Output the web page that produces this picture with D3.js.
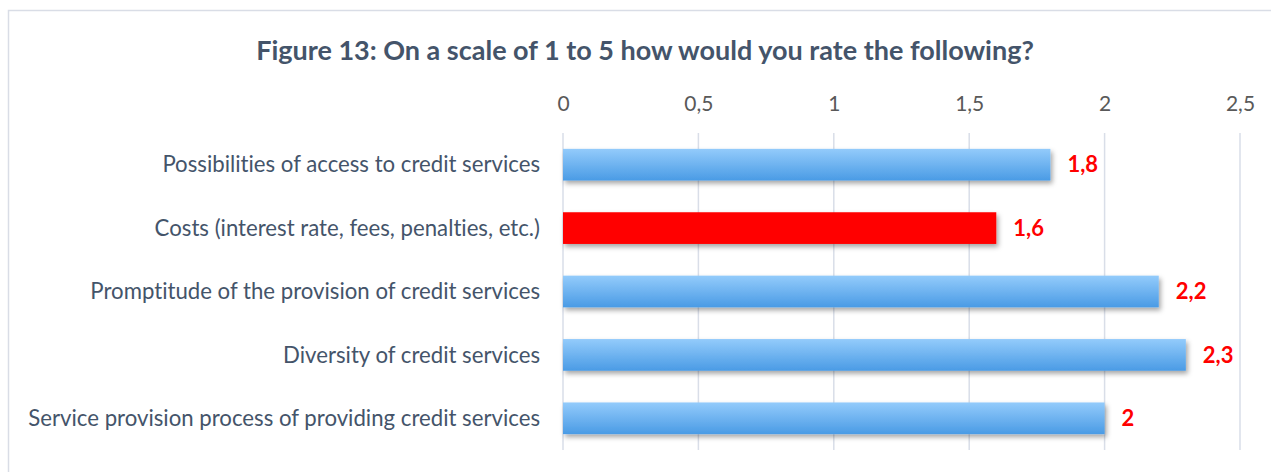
<!DOCTYPE html>
<html>
<head>
<meta charset="utf-8">
<script src="https://cdn.jsdelivr.net/npm/d3@7"></script>
<style>
  body { margin: 0; background: #fff; }
  svg { display: block; font-family: Lato, "Open Sans", sans-serif; font-variant-ligatures: none; }
</style>
</head>
<body>
<div id="chart"></div>
<script>
// data
const categories = [
  'Possibilities of access to credit services',
  'Costs (interest rate, fees, penalties, etc.)',
  'Promptitude of the provision of credit services',
  'Diversity of credit services',
  'Service provision process of providing credit services'
];
const values = [1.8, 1.6, 2.2, 2.3, 2];
const highlighted = [false, true, false, false, false];
const ticks = [0, 0.5, 1, 1.5, 2, 2.5];
const title = 'Figure 13: On a scale of 1 to 5 how would you rate the following?';

const W = 1271, H = 472;
const margin = { top: 133, right: 31, bottom: 22, left: 563 };

const svg = d3.select('#chart').append('svg')
  .attr('width', W)
  .attr('height', H);

const defs = svg.append('defs');
const grad = defs.append('linearGradient')
  .attr('id', 'barGrad')
  .attr('x1', 0).attr('y1', 0).attr('x2', 0).attr('y2', 1);
grad.append('stop').attr('offset', '0%').attr('stop-color', '#93cbfb');
grad.append('stop').attr('offset', '100%').attr('stop-color', '#4a9be5');

const shadow = defs.append('filter')
  .attr('id', 'shadow')
  .attr('x', '-5%').attr('y', '-30%')
  .attr('width', '110%').attr('height', '170%');
shadow.append('feDropShadow')
  .attr('dx', 2).attr('dy', 3)
  .attr('stdDeviation', 2.5)
  .attr('flood-color', '#000')
  .attr('flood-opacity', 0.35);

// outer frame (runs off the right and bottom edge)
svg.append('rect')
  .attr('x', 8.5).attr('y', 10.5)
  .attr('width', W + 20).attr('height', H + 20)
  .attr('fill', 'none')
  .attr('stroke', '#d9dde6')
  .attr('stroke-width', 1.5);

svg.append('text')
  .attr('x', 645).attr('y', 60)
  .attr('text-anchor', 'middle')
  .attr('font-size', 27)
  .attr('font-weight', 'bold')
  .attr('fill', '#44546a')
  .text(title);

const x = d3.scaleLinear()
  .domain([0, 2.5])
  .range([margin.left, W - margin.right]);

const y = d3.scaleBand()
  .domain(categories)
  .range([margin.top, H - margin.bottom])
  .paddingInner(0.5)
  .paddingOuter(0.25);

// gridlines
svg.append('g')
  .selectAll('line')
  .data(ticks)
  .join('line')
  .attr('x1', d => x(d)).attr('x2', d => x(d))
  .attr('y1', margin.top).attr('y2', H - margin.bottom)
  .attr('stroke', '#d9dee8')
  .attr('stroke-width', 1.5);

// top axis
const xAxis = d3.axisTop(x)
  .tickValues(ticks)
  .tickSize(0)
  .tickPadding(0)
  .tickFormat(d => String(d).replace('.', ','));

svg.append('g')
  .attr('transform', 'translate(0,111)')
  .call(xAxis)
  .call(g => g.select('.domain').remove())
  .call(g => g.selectAll('text')
    .attr('font-size', 21)
    .attr('font-family', 'Lato, sans-serif')
    .attr('fill', '#595959'));

// category labels
svg.append('g')
  .selectAll('text')
  .data(categories)
  .join('text')
  .attr('x', 540)
  .attr('y', d => y(d) + y.bandwidth() / 2)
  .attr('dy', '0.35em')
  .attr('text-anchor', 'end')
  .attr('font-size', 22.2)
  .attr('fill', '#44546a')
  .text(d => d);

// bars
svg.append('g')
  .selectAll('rect')
  .data(categories)
  .join('rect')
  .attr('x', x(0))
  .attr('y', d => y(d))
  .attr('width', (d, i) => x(values[i]) - x(0))
  .attr('height', y.bandwidth())
  .attr('fill', (d, i) => highlighted[i] ? '#ff0000' : 'url(#barGrad)')
  .attr('filter', 'url(#shadow)');

// value labels
svg.append('g')
  .selectAll('text')
  .data(categories)
  .join('text')
  .attr('x', (d, i) => x(values[i]) + 17)
  .attr('y', d => y(d) + y.bandwidth() / 2)
  .attr('dy', '0.35em')
  .attr('font-size', 22)
  .attr('font-weight', 'bold')
  .attr('fill', '#ff0000')
  .text((d, i) => String(values[i]).replace('.', ','));
</script>
</body>
</html>
